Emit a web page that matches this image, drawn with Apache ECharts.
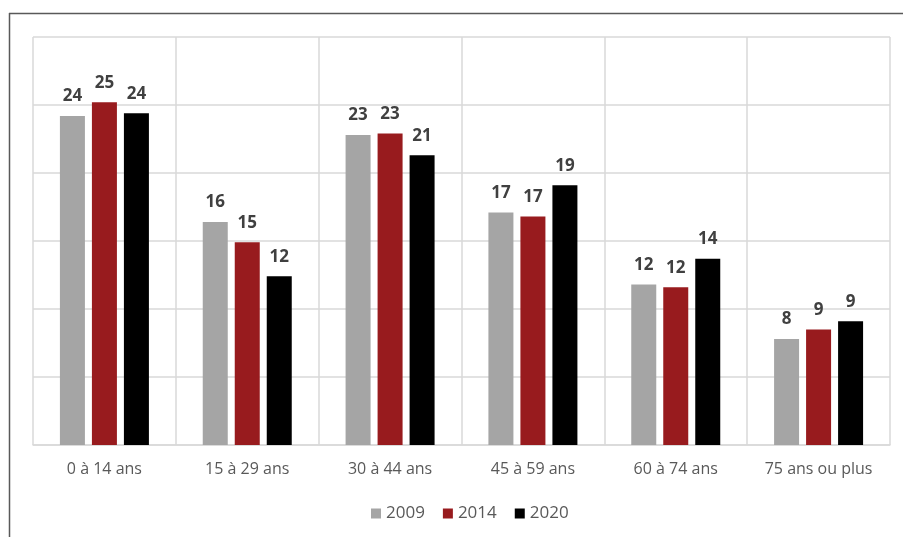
<!DOCTYPE html>
<html>
<head>
<meta charset="utf-8">
<script src="https://cdn.jsdelivr.net/npm/echarts@6/dist/echarts.min.js"></script>
<style>
  html, body { margin: 0; padding: 0; background: #ffffff; }
  #chart { width: 903px; height: 537px; }
</style>
</head>
<body>
<div id="chart"></div>
<script>
// Répartition par tranche d'âge (%)
const categories = ['0 à 14 ans', '15 à 29 ans', '30 à 44 ans', '45 à 59 ans', '60 à 74 ans', '75 ans ou plus'];
const years = ['2009', '2014', '2020'];
const values2009 = [24.2, 16.4, 22.8, 17.1, 11.8, 7.8];
const values2014 = [25.2, 14.9, 22.9, 16.8, 11.6, 8.5];
const values2020 = [24.4, 12.4, 21.3, 19.1, 13.7, 9.1];
const colors = ['#a5a5a5', '#981b1e', '#000000'];

const font = '"Open Sans", "Liberation Sans", sans-serif';

function barSeries(name, data, color) {
  return {
    name: name,
    type: 'bar',
    data: data,
    barWidth: 25,
    barGap: '28%',
    itemStyle: { color: color },
    label: {
      show: true,
      position: 'top',
      distance: 11,
      fontFamily: font,
      fontSize: 17,
      fontWeight: 'bold',
      color: '#404040',
      formatter: p => Math.round(p.value)
    }
  };
}

const chart = echarts.init(document.getElementById('chart'), null, { renderer: 'canvas' });
chart.setOption({
  animation: false,
  backgroundColor: '#ffffff',
  grid: { left: 33, right: 13, top: 37, bottom: 92, containLabel: false },
  legend: {
    data: years,
    bottom: 10,
    left: 366,
    icon: 'rect',
    itemWidth: 10,
    itemHeight: 10,
    itemGap: 18,
    textStyle: { fontFamily: font, fontSize: 17, color: '#595959' }
  },
  xAxis: {
    type: 'category',
    data: categories,
    axisLine: { show: true, lineStyle: { color: '#d9d9d9', width: 1.5 } },
    axisTick: { show: false, interval: 0 },
    splitLine: { show: true, interval: 0, lineStyle: { color: '#d9d9d9', width: 1.5 } },
    axisLabel: { interval: 0, fontFamily: font, fontSize: 16, color: '#595959', margin: 16 }
  },
  yAxis: {
    type: 'value',
    min: 0,
    max: 30,
    interval: 5,
    axisLabel: { show: false },
    axisLine: { show: false },
    axisTick: { show: false },
    splitLine: { show: true, lineStyle: { color: '#d9d9d9', width: 1.5 } }
  },
  series: [
    barSeries(years[0], values2009, colors[0]),
    barSeries(years[1], values2014, colors[1]),
    barSeries(years[2], values2020, colors[2])
  ],
  graphic: [
    { type: 'line', shape: { x1: 9, y1: 13.5, x2: 903, y2: 13.5 }, style: { stroke: '#595959', lineWidth: 1.5 }, silent: true },
    { type: 'line', shape: { x1: 9.5, y1: 13, x2: 9.5, y2: 537 }, style: { stroke: '#595959', lineWidth: 1.5 }, silent: true }
  ]
});
</script>
</body>
</html>
